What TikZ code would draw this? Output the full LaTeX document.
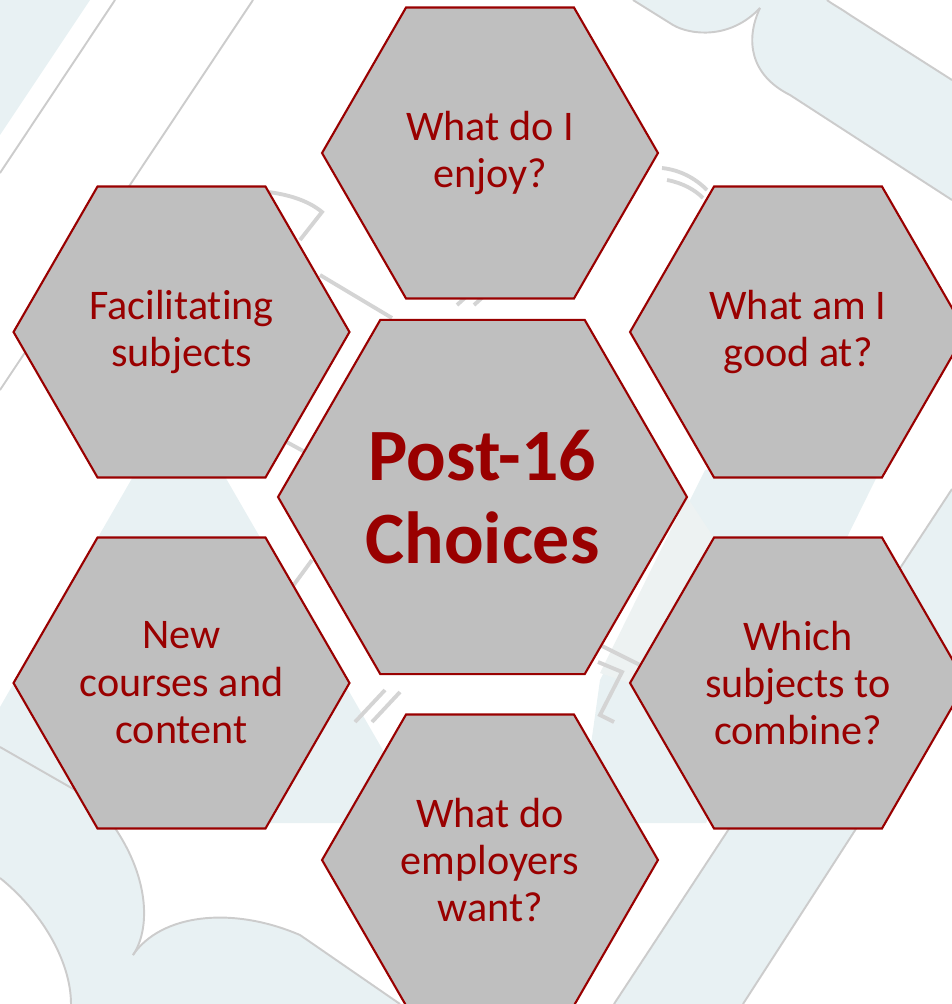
\documentclass[tikz,border=0pt]{standalone}
\usepackage{fontspec}
\setmainfont{Carlito}[Ligatures={NoCommon,NoContextual}]
\usepackage{xcolor}
\usetikzlibrary{shapes.geometric}
\definecolor{hexred}{RGB}{153,0,0}
\definecolor{hexgray}{RGB}{191,191,191}
\definecolor{wmblue}{RGB}{232,241,243}
\definecolor{wmline}{RGB}{204,204,204}
\definecolor{wmgray}{RGB}{212,212,212}
\definecolor{wmpale}{RGB}{237,242,242}

\begin{document}
\begin{tikzpicture}[
    x=0.02cm, y=-0.02cm,
    hexa/.style={regular polygon, regular polygon sides=6, draw=hexred, line width=1.2pt, fill=hexgray, minimum size=6.72cm, inner sep=0pt, align=center, text=hexred, font=\fontsize{24}{27}\selectfont},
    bighexa/.style={hexa, minimum size=8.18cm, font=\fontsize{42}{47}\selectfont\bfseries},
    wmark/.style={draw=wmline, line width=1.1pt},
    wbar/.style={draw=wmgray, line width=2.2pt}
]
\useasboundingbox (0,0) rectangle (952,1004);
\clip (0,0) rectangle (952,1004);

% watermark in the background
\fill[wmblue] (0,0) -- (90,0) -- (0,135) -- cycle;
\draw[wmark] (115,0) -- (0,173);
\draw[wmark] (253,0) -- (100,230);
\draw[wmark] (0,390) -- (40,330);
\fill[wmblue] (179,397) -- (425,823) -- (-67,823) -- cycle;
\fill[wmblue] (705,470) -- (895,440) -- (706,823) -- (580,823) -- (600,680) -- cycle;
\fill[wmpale] (687,497) -- (714,538) -- (630,683) -- (600,673) -- cycle;
\fill[wmblue] (633,0) -- (673,25) .. controls (690,35) and (730,40) .. (760,8) .. controls (745,40) and (750,75) .. (790,95) -- (952,200) -- (952,80) -- (850,15) .. controls (840,8) and (832,4) .. (827,0) -- cycle;
\draw[wmark] (633,0) -- (673,25) .. controls (690,35) and (730,40) .. (760,8);
\draw[wmark] (760,8) .. controls (745,40) and (750,75) .. (790,95) -- (952,200);
\draw[wmark] (827,0) .. controls (832,4) and (840,8) .. (850,15) -- (952,80);
\fill[wmblue] (614,1004) -- (952,489) -- (952,680) -- (743,1004) -- cycle;
\draw[wmark] (614,1004) -- (952,489);
\draw[wmark] (743,1004) -- (952,680);
\fill[wmblue] (0,747) -- (75,790) .. controls (100,805) and (110,815) .. (115,828) .. controls (150,880) and (150,930) .. (133,955) .. controls (160,915) and (230,905) .. (300,935) -- (400,1004) -- (0,1004) -- cycle;
\fill[white] (0,878) .. controls (40,910) and (71,960) .. (71,1004) -- (0,1004) -- cycle;
\draw[wmark] (0,747) -- (75,790) .. controls (100,805) and (110,815) .. (115,828) .. controls (150,880) and (150,930) .. (133,955);
\draw[wmark] (133,955) .. controls (160,915) and (230,905) .. (300,935) -- (400,1004);
\draw[wmark] (0,878) .. controls (40,910) and (71,960) .. (71,1004);

% grey brackets between the hexagons
\draw[wbar] (268,192) .. controls (292,195) and (310,202) .. (322,212) -- (300,240);
\draw[wbar] (320,275) -- (392,318);
\draw[wbar] (662,168) .. controls (680,170) and (695,178) .. (707,190);
\draw[wbar] (667,180) .. controls (683,183) and (695,190) .. (703,198);
\draw[wbar] (600,645) -- (640,665);
\draw[wbar] (598,662) -- (622,672) -- (600,715) -- (614,722);
\draw[wbar] (457,305) -- (478,286);
\draw[wbar] (474,305) -- (495,286);
\draw[wbar] (355,722) -- (385,690);
\draw[wbar] (372,722) -- (400,692);
\draw[wbar] (283,440) -- (305,452);
\draw[wbar] (290,590) -- (312,560);

% hexagons
\node[bighexa] (core) at (482.5,497) {Post-16\\Choices};
\node[hexa] (enjoy) at (490,153) {What do I\\enjoy?};
\node[hexa] (good) at (798,332) {What am I\\good at?};
\node[hexa] (facil) at (181.5,332) {Facilitating\\subjects};
\node[hexa] (courses) at (181.5,683) {New\\courses and\\content};
\node[hexa] (combine) at (798,683) {Which\\subjects to\\combine?};
\node[hexa] (employ) at (490,860) {What do\\employers\\want?};
\end{tikzpicture}
\end{document}
